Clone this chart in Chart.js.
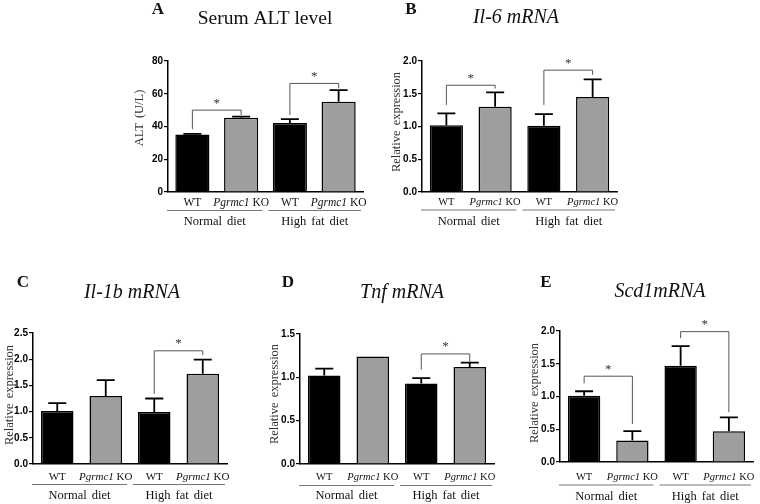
<!DOCTYPE html>
<html>
<head>
<meta charset="utf-8">
<script src="https://cdn.jsdelivr.net/npm/chart.js@4"></script>
<style>
  body { margin: 0; background: #fff; }
  #fig { position: relative; width: 760px; height: 504px; overflow: hidden; }
</style>
</head>
<body>
<div id="fig"></div>
<script>
// categories shared by every panel
var categories = ["WT", "Pgrmc1 KO", "WT", "Pgrmc1 KO"];
var groups = ["Normal diet", "High fat diet"];

// A - serum ALT (U/L)
var altMean = [35.1, 45.3, 42.2, 55.1];
var altSem = [0.4, 0.7, 2.3, 7.1];
var altTicks = [0, 20, 40, 60, 80];
// B - Il-6
var il6Mean = [1.02, 1.30, 1.01, 1.45];
var il6Sem = [0.18, 0.22, 0.18, 0.27];
// C - Il-1b
var il1bMean = [1.01, 1.30, 0.99, 1.72];
var il1bSem = [0.15, 0.30, 0.26, 0.27];
// D - Tnf
var tnfMean = [1.02, 1.24, 0.93, 1.12];
var tnfSem = [0.08, 0, 0.06, 0.05];
// E - Scd1
var scd1Mean = [1.01, 0.33, 1.47, 0.47];
var scd1Sem = [0.07, 0.14, 0.30, 0.21];

// significance brackets: [from, to, top, left leg end, right leg end] in axis units
var altSig = [[0, 1, 50, 38.4, 47], [2, 3, 66.3, 47, 63.3]];
var il6Sig = [[0, 1, 1.63, 1.33, 1.58], [2, 3, 1.86, 1.33, 1.79]];
var il1bSig = [[2, 3, 2.16, 1.34, 2.08]];
var tnfSig = [[2, 3, 1.27, 1.09, 1.18]];
var scd1Sig = [[0, 1, 1.31, 1.20, 0.58], [2, 3, 1.99, 1.89, 0.76]];

var barColors = ["#000000", "#9e9e9e", "#000000", "#9e9e9e"];
var serif = '"Liberation Serif", "Times New Roman", serif';

function makePanel(p) {
    var cv = document.createElement('canvas');
    cv.width = p.box[2];
    cv.height = p.box[3];
    cv.style.position = 'absolute';
    cv.style.left = p.box[0] + 'px';
    cv.style.top = p.box[1] + 'px';
    document.getElementById('fig').appendChild(cv);
    var ox = p.box[0], oy = p.box[1];

    var decor = {
        id: 'decor',
        afterDatasetsDraw: function(chart) {
            var ctx = chart.ctx;
            var ys = chart.scales.y;
            var area = chart.chartArea;
            var bars = chart.getDatasetMeta(0).data;
            ctx.save();

            // error bars (upper only)
            ctx.strokeStyle = '#000';
            ctx.lineWidth = 1.8;
            bars.forEach(function(el, i) {
                if (!p.sem[i]) return;
                var yt = ys.getPixelForValue(p.mean[i] + p.sem[i]);
                ctx.beginPath();
                ctx.moveTo(el.x, el.y);
                ctx.lineTo(el.x, yt);
                ctx.moveTo(el.x - 9, yt);
                ctx.lineTo(el.x + 9, yt);
                ctx.stroke();
            });

            // brackets + stars
            ctx.strokeStyle = '#555';
            ctx.lineWidth = 1;
            p.sig.forEach(function(s) {
                var xl = bars[s[0]].x, xr = bars[s[1]].x;
                var yt = ys.getPixelForValue(s[2]);
                ctx.beginPath();
                ctx.moveTo(xl, ys.getPixelForValue(s[3]));
                ctx.lineTo(xl, yt);
                ctx.lineTo(xr, yt);
                ctx.lineTo(xr, ys.getPixelForValue(s[4]));
                ctx.stroke();
                ctx.fillStyle = '#333';
                ctx.font = '13px ' + serif;
                ctx.textAlign = 'center';
                ctx.textBaseline = 'middle';
                ctx.fillText('*', (xl + xr) / 2, yt - 7);
            });

            // category labels
            ctx.fillStyle = '#111';
            ctx.textBaseline = 'middle';
            var ly = area.bottom + p.labDy;
            bars.forEach(function(el, i) {
                var name = categories[i];
                if (name === 'WT') {
                    ctx.font = p.labSize + 'px ' + serif;
                    ctx.textAlign = 'center';
                    ctx.fillText(name, el.x, ly);
                } else {
                    var it = 'italic ' + p.labSize + 'px ' + serif;
                    var rg = p.labSize + 'px ' + serif;
                    ctx.font = it;
                    var w1 = ctx.measureText('Pgrmc1').width;
                    ctx.font = rg;
                    var w2 = ctx.measureText(' KO').width;
                    var x0 = el.x - (w1 + w2) / 2;
                    ctx.textAlign = 'left';
                    ctx.font = it;
                    ctx.fillText('Pgrmc1', x0, ly);
                    ctx.font = rg;
                    ctx.fillText(' KO', x0 + w1, ly);
                }
            });

            // group underlines and diet labels
            var mid = (bars[1].x + bars[2].x) / 2;
            var spans = [[area.left - 1, mid - 3], [mid + 3, area.right - 2]];
            ctx.strokeStyle = '#777';
            ctx.lineWidth = 1;
            ctx.font = '12.5px ' + serif;
            ctx.textAlign = 'center';
            if ('wordSpacing' in ctx) ctx.wordSpacing = '2px';
            spans.forEach(function(sp, g) {
                var yl = area.bottom + p.lineDy + 0.5;
                ctx.beginPath();
                ctx.moveTo(sp[0], yl);
                ctx.lineTo(sp[1], yl);
                ctx.stroke();
                ctx.fillText(groups[g], (sp[0] + sp[1]) / 2, area.bottom + p.dietDy);
            });

            // y axis title
            ctx.save();
            ctx.translate(p.yTitle[0] - ox, p.yTitle[1] - oy);
            ctx.rotate(-Math.PI / 2);
            ctx.fillStyle = '#333';
            ctx.font = '12.5px ' + serif;
            if ('wordSpacing' in ctx) ctx.wordSpacing = '2px';
            ctx.fillText(p.yLabel, 0, 0);
            ctx.restore();

            // panel title and letter
            if ('wordSpacing' in ctx) ctx.wordSpacing = '0px';
            ctx.fillStyle = '#111';
            ctx.font = (p.titleItalic ? 'italic ' : '') + p.titleSize + 'px ' + serif;
            ctx.fillText(p.title, p.titlePos[0] - ox, p.titlePos[1] - oy);
            ctx.font = 'bold 17px ' + serif;
            ctx.fillText(p.letter, p.letterPos[0] - ox, p.letterPos[1] - oy);
            ctx.restore();
        }
    };

    new Chart(cv, {
        type: 'bar',
        data: {
            labels: categories,
            datasets: [{
                data: p.mean,
                backgroundColor: barColors,
                borderColor: '#000',
                borderWidth: 1.5,
                barPercentage: p.barPct,
                categoryPercentage: 1
            }]
        },
        options: {
            responsive: false,
            animation: false,
            layout: {
                autoPadding: false,
                padding: { left: 0, top: p.area[1] - oy, right: ox + p.box[2] - p.area[2], bottom: 0 }
            },
            plugins: { legend: { display: false }, tooltip: { enabled: false } },
            scales: {
                x: {
                    ticks: { display: false },
                    grid: { display: false },
                    border: { color: '#000', width: 1.5 },
                    afterFit: function(s) { s.height = oy + p.box[3] - p.area[3]; }
                },
                y: {
                    min: 0,
                    max: p.max,
                    ticks: {
                        stepSize: p.step,
                        padding: 1,
                        color: '#000',
                        font: { family: '"Liberation Sans", Arial, sans-serif', size: 10, weight: 'bold' },
                        callback: function(v) { return p.step < 1 ? v.toFixed(1) : v; }
                    },
                    grid: { drawOnChartArea: false, tickLength: 4, color: '#000', lineWidth: 1.2 },
                    border: { color: '#000', width: 1.5 },
                    afterFit: function(s) { s.width = p.area[0] - ox; }
                }
            }
        },
        plugins: [decor]
    });
}

makePanel({ box: [120, 0, 255, 240], area: [168, 61, 363, 192], mean: altMean, sem: altSem, sig: altSig,
    max: altTicks[altTicks.length - 1], step: altTicks[1] - altTicks[0], barPct: 0.70,
    title: 'Serum ALT level', titleItalic: false, titleSize: 19.5, titlePos: [265, 19],
    letter: 'A', letterPos: [158, 10], yLabel: 'ALT (U/L)', yTitle: [140, 118],
    labSize: 11.5, labDy: 11, lineDy: 18, dietDy: 30 });

makePanel({ box: [375, 0, 265, 240], area: [422, 61, 617, 192], mean: il6Mean, sem: il6Sem, sig: il6Sig,
    max: 2, step: 0.5, barPct: 0.68,
    title: 'Il-6 mRNA', titleItalic: true, titleSize: 20, titlePos: [516, 18],
    letter: 'B', letterPos: [411, 10], yLabel: 'Relative expression', yTitle: [397, 122],
    labSize: 10.5, labDy: 10, lineDy: 17.5, dietDy: 30 });

makePanel({ box: [0, 262, 245, 242], area: [33, 333, 227, 464], mean: il1bMean, sem: il1bSem, sig: il1bSig,
    max: 2.5, step: 0.5, barPct: 0.67,
    title: 'Il-1b mRNA', titleItalic: true, titleSize: 20, titlePos: [132, 293],
    letter: 'C', letterPos: [23, 283], yLabel: 'Relative expression', yTitle: [10, 395],
    labSize: 11, labDy: 13, lineDy: 20, dietDy: 32 });

makePanel({ box: [245, 262, 255, 242], area: [300, 334, 494, 464], mean: tnfMean, sem: tnfSem, sig: tnfSig,
    max: 1.5, step: 0.5, barPct: 0.67,
    title: 'Tnf mRNA', titleItalic: true, titleSize: 20, titlePos: [402, 293],
    letter: 'D', letterPos: [288, 283], yLabel: 'Relative expression', yTitle: [275, 394],
    labSize: 10.5, labDy: 13, lineDy: 21, dietDy: 32 });

makePanel({ box: [500, 262, 260, 242], area: [560, 331, 753, 462], mean: scd1Mean, sem: scd1Sem, sig: scd1Sig,
    max: 2, step: 0.5, barPct: 0.67,
    title: 'Scd1mRNA', titleItalic: true, titleSize: 20, titlePos: [660, 292],
    letter: 'E', letterPos: [546, 283], yLabel: 'Relative expression', yTitle: [535, 393],
    labSize: 10.5, labDy: 15, lineDy: 22.5, dietDy: 35 });
</script>
</body>
</html>
